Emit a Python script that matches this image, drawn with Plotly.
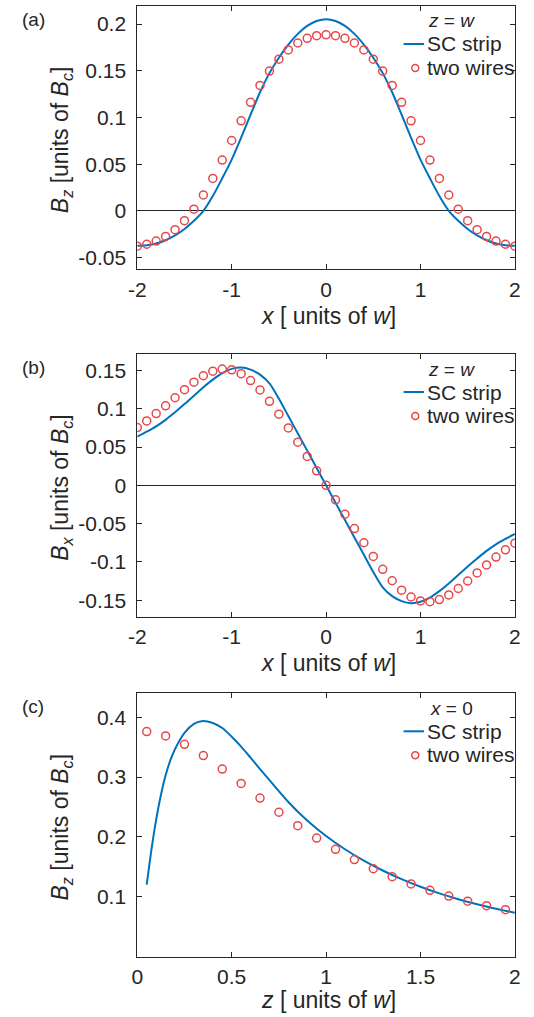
import plotly.graph_objects as go

# ---------------- data ----------------
x_pos = [-2.0, -1.9, -1.8, -1.7, -1.6, -1.5, -1.4, -1.3, -1.2, -1.1, -1.0,
         -0.9, -0.8, -0.7, -0.6, -0.5, -0.4, -0.3, -0.2, -0.1, 0.0,
         0.1, 0.2, 0.3, 0.4, 0.5, 0.6, 0.7, 0.8, 0.9, 1.0,
         1.1, 1.2, 1.3, 1.4, 1.5, 1.6, 1.7, 1.8, 1.9, 2.0]

# (a) Bz vs x at z = w
a_strip = [-0.0372, -0.0366, -0.0348, -0.0313, -0.0262, -0.0192, -0.0104, 0.0002, 0.0160, 0.0350, 0.0550,
           0.0785, 0.1030, 0.1270, 0.1475, 0.1640, 0.1780, 0.1895, 0.1980, 0.2033, 0.2052,
           0.2033, 0.1980, 0.1895, 0.1780, 0.1640, 0.1475, 0.1270, 0.1030, 0.0785, 0.0550,
           0.0350, 0.0160, 0.0002, -0.0104, -0.0192, -0.0262, -0.0313, -0.0348, -0.0366, -0.0372]
a_wires = [-0.0377, -0.0356, -0.0322, -0.0272, -0.0200, -0.0104, 0.0019, 0.0171, 0.0348, 0.0545, 0.0754,
           0.0964, 0.1163, 0.1343, 0.1497, 0.1624, 0.1723, 0.1797, 0.1847, 0.1876, 0.1885,
           0.1876, 0.1847, 0.1797, 0.1723, 0.1624, 0.1497, 0.1343, 0.1163, 0.0964, 0.0754,
           0.0545, 0.0348, 0.0171, 0.0019, -0.0104, -0.0200, -0.0272, -0.0322, -0.0356, -0.0377]

# (b) Bx vs x at z = w
b_strip = [0.0635, 0.0700, 0.0770, 0.0855, 0.0955, 0.1060, 0.1170, 0.1280, 0.1380, 0.1465, 0.1520,
           0.1537, 0.1510, 0.1445, 0.1330, 0.1130, 0.0905, 0.0680, 0.0453, 0.0227, 0.0,
           -0.0227, -0.0453, -0.0680, -0.0905, -0.1130, -0.1330, -0.1445, -0.1510, -0.1537, -0.1520,
           -0.1465, -0.1380, -0.1280, -0.1170, -0.1060, -0.0955, -0.0855, -0.0770, -0.0700, -0.0635]
b_wires = [0.0754, 0.0841, 0.0936, 0.1038, 0.1143, 0.1248, 0.1346, 0.1430, 0.1490, 0.1518, 0.1508,
           0.1457, 0.1368, 0.1245, 0.1096, 0.0928, 0.0749, 0.0564, 0.0377, 0.0189, 0.0,
           -0.0189, -0.0377, -0.0564, -0.0749, -0.0928, -0.1096, -0.1245, -0.1368, -0.1457, -0.1508,
           -0.1518, -0.1490, -0.1430, -0.1346, -0.1248, -0.1143, -0.1038, -0.0936, -0.0841, -0.0754]

# (c) Bz vs z at x = 0
z_strip = [0.05, 0.075, 0.1, 0.125, 0.15, 0.175, 0.2, 0.25, 0.3, 0.34, 0.4, 0.45, 0.5, 0.55, 0.6,
           0.65, 0.7, 0.8, 0.9, 1.0, 1.1, 1.2, 1.3, 1.4, 1.5, 1.6, 1.7, 1.8, 1.9, 2.0]
c_strip = [0.1205, 0.1790, 0.2290, 0.2700, 0.3030, 0.3280, 0.3470, 0.3740, 0.3890, 0.3935, 0.3905,
           0.3820, 0.3675, 0.3510, 0.3325, 0.3135, 0.2950, 0.2585, 0.2275, 0.2015, 0.1795, 0.1605,
           0.1440, 0.1295, 0.1168, 0.1057, 0.0960, 0.0875, 0.0800, 0.0735]
z_wires = [0.05, 0.15, 0.25, 0.35, 0.45, 0.55, 0.65, 0.75, 0.85, 0.95,
           1.05, 1.15, 1.25, 1.35, 1.45, 1.55, 1.65, 1.75, 1.85, 1.95]
c_wires = [0.3761, 0.3687, 0.3548, 0.3359, 0.3135, 0.2894, 0.2650, 0.2413, 0.2189, 0.1982,
           0.1793, 0.1623, 0.1471, 0.1336, 0.1215, 0.1108, 0.1013, 0.0928, 0.0853, 0.0785]

x_tickvals = [-2, -1, 0, 1, 2]
x_ticktext = ["-2", "-1", "0", "1", "2"]
z_tickvals = [0, 0.5, 1, 1.5, 2]
z_ticktext = ["0", "0.5", "1", "1.5", "2"]
a_tickvals = [-0.05, 0, 0.05, 0.1, 0.15, 0.2]
a_ticktext = ["-0.05", "0", "0.05", "0.1", "0.15", "0.2"]
b_tickvals = [-0.15, -0.1, -0.05, 0, 0.05, 0.1, 0.15]
b_ticktext = ["-0.15", "-0.1", "-0.05", "0", "0.05", "0.1", "0.15"]
c_tickvals = [0.1, 0.2, 0.3, 0.4]
c_ticktext = ["0.1", "0.2", "0.3", "0.4"]

legend_titles = ["<i>z</i> = <i>w</i>", "<i>z</i> = <i>w</i>", "<i>x</i> = 0"]
legend_names = ["SC strip", "two wires"]
panel_labels = ["(a)", "(b)", "(c)"]
x_titles = ["<i>x</i> [ units of <i>w</i>]", "<i>x</i> [ units of <i>w</i>]", "<i>z</i> [ units of <i>w</i>]"]
y_titles = ["<i>B</i><sub><i>z</i></sub> [units of <i>B</i><sub><i>c</i></sub>]",
            "<i>B</i><sub><i>x</i></sub> [units of <i>B</i><sub><i>c</i></sub>]",
            "<i>B</i><sub><i>z</i></sub> [units of <i>B</i><sub><i>c</i></sub>]"]

# ---------------- style / layout ----------------
W, H = 534, 1017
FONT = "Liberation Sans, Arial, sans-serif"
AX = "#262626"
BLUE = "#0072BD"
RED = "#E8474A"

left_px, right_px = 132, 520.5
panels_px = [(6, 269.3), (354, 616.7), (693.3, 956.7)]  # top, bottom in pixels
xtitle_dy = [47, 46, 43]


def px_x(p):
    return p / W


def px_y(p):
    return 1 - p / H


fig = go.Figure()

series = [(x_pos, a_strip, x_pos, a_wires),
          (x_pos, b_strip, x_pos, b_wires),
          (z_strip, c_strip, z_wires, c_wires)]
for i, (xs, ys, xw, yw) in enumerate(series):
    sfx = "" if i == 0 else str(i + 1)
    fig.add_trace(go.Scatter(x=xs, y=ys, mode="lines", line=dict(color=BLUE, width=2, shape="spline", smoothing=0.8),
                             xaxis="x" + sfx, yaxis="y" + sfx, showlegend=False, hoverinfo="skip"))
    fig.add_trace(go.Scatter(x=xw, y=yw, mode="markers",
                             marker=dict(symbol="circle-open", size=8, color=RED, line=dict(width=1.5, color=RED)),
                             xaxis="x" + sfx, yaxis="y" + sfx, showlegend=False, hoverinfo="skip"))

axis_common = dict(showline=True, linecolor=AX, linewidth=1, mirror="ticks", ticks="inside",
                   ticklen=5, tickwidth=1, tickcolor=AX, showgrid=False,
                   tickfont=dict(family=FONT, size=21, color=AX))

yranges = [[-0.0624, 0.2193], [-0.1714, 0.1714], [0, 0.44]]
ytv = [(a_tickvals, a_ticktext), (b_tickvals, b_ticktext), (c_tickvals, c_ticktext)]
xtv = [(x_tickvals, x_ticktext), (x_tickvals, x_ticktext), (z_tickvals, z_ticktext)]
xranges = [[-2, 2], [-2, 2], [0, 2]]

layout = dict(width=W, height=H, autosize=False, margin=dict(l=0, r=0, t=0, b=0),
              paper_bgcolor="white", plot_bgcolor="white", showlegend=False)
annotations = []
shapes = []
for i in range(3):
    sfx = "" if i == 0 else str(i + 1)
    top, bot = panels_px[i]
    layout["xaxis" + sfx] = dict(axis_common, domain=[px_x(left_px), px_x(right_px)], range=xranges[i],
                                 tickvals=xtv[i][0], ticktext=xtv[i][1], zeroline=False,
                                 anchor="y" + sfx, ticklabelstandoff=1)
    layout["yaxis" + sfx] = dict(axis_common, domain=[px_y(bot), px_y(top)], range=yranges[i],
                                 tickvals=ytv[i][0], ticktext=ytv[i][1],
                                 zeroline=(i < 2), zerolinecolor=AX, zerolinewidth=1,
                                 anchor="x" + sfx, ticklabelstandoff=6)
    cx = (left_px + right_px) / 2
    cy = (top + bot) / 2
    # panel label
    annotations.append(dict(text=panel_labels[i], x=px_x(11), y=px_y(top + 13.5), xref="paper", yref="paper",
                            xanchor="left", yanchor="middle", showarrow=False,
                            font=dict(family=FONT, size=19, color=AX)))
    # axis titles
    annotations.append(dict(text=x_titles[i], x=px_x(cx + 2), y=px_y(bot + xtitle_dy[i]), xref="paper", yref="paper",
                            xanchor="center", yanchor="middle", showarrow=False,
                            font=dict(family=FONT, size=23, color=AX)))
    annotations.append(dict(text=y_titles[i], x=px_x(54), y=px_y(cy + 2), xref="paper", yref="paper",
                            xanchor="center", yanchor="middle", showarrow=False, textangle=-90,
                            font=dict(family=FONT, size=23, color=AX)))
    # legend
    annotations.append(dict(text=legend_titles[i], x=px_x(455), y=px_y(top + 15), xref="paper", yref="paper",
                            xanchor="center", yanchor="middle", showarrow=False,
                            font=dict(family=FONT, size=19, color=AX)))
    annotations.append(dict(text=legend_names[0], x=px_x(428.5), y=px_y(top + 38), xref="paper", yref="paper",
                            xanchor="left", yanchor="middle", showarrow=False,
                            font=dict(family=FONT, size=21, color=AX)))
    annotations.append(dict(text=legend_names[1], x=px_x(428.5), y=px_y(top + 61.5), xref="paper", yref="paper",
                            xanchor="left", yanchor="middle", showarrow=False,
                            font=dict(family=FONT, size=21, color=AX)))
    shapes.append(dict(type="line", xref="paper", yref="paper", x0=px_x(406), x1=px_x(427),
                       y0=px_y(top + 38), y1=px_y(top + 38), line=dict(color=BLUE, width=2)))
    shapes.append(dict(type="circle", xref="paper", yref="paper", xsizemode="pixel", ysizemode="pixel",
                       xanchor=px_x(418), yanchor=px_y(top + 62), x0=-3.5, x1=3.5, y0=-3.5, y1=3.5,
                       line=dict(color=RED, width=1.5)))

layout["annotations"] = annotations
layout["shapes"] = shapes
fig.update_layout(**layout)
fig.write_html("out.html")
